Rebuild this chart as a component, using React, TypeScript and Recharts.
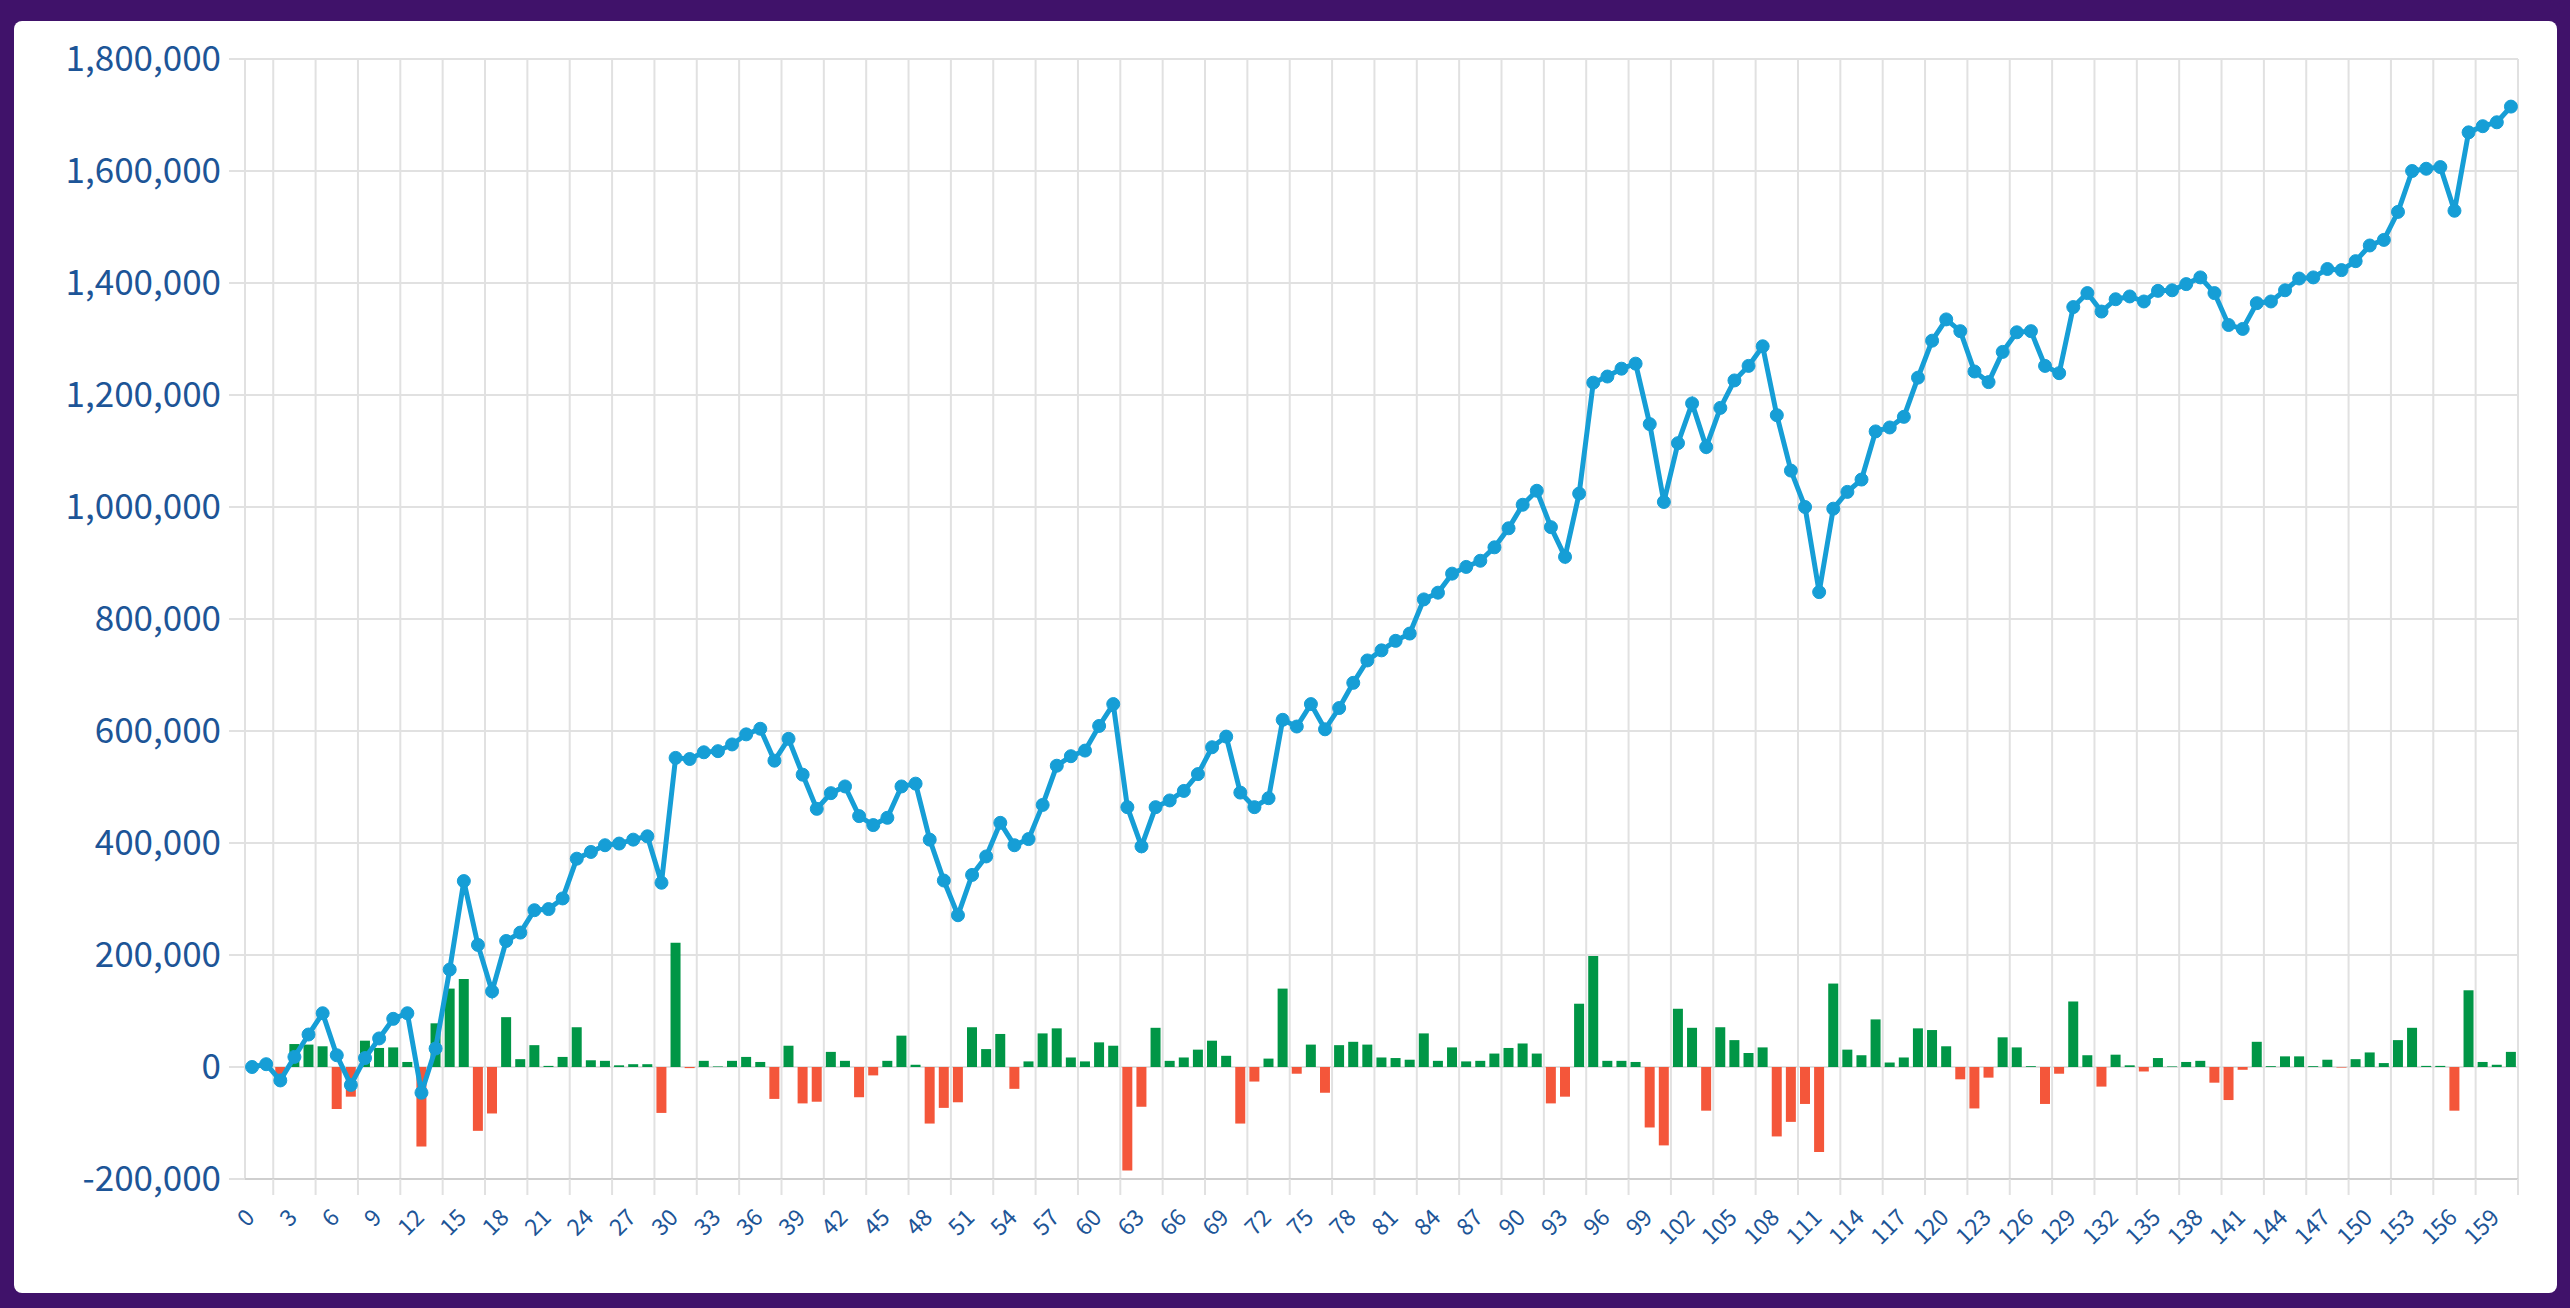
import { Bar, Cell, CartesianGrid, ComposedChart, Line, ReferenceLine, XAxis, YAxis } from 'recharts'

// cumulative balance, one value per period 0..160
const balance = [
    0, 5000, -24000, 18000, 58000, 96000, 21000, -32000, 16000, 51000,
    86000, 96000, -46000, 33000, 174000, 332000, 218000, 135000, 225000, 240000,
    280000, 282000, 301000, 372000, 384000, 396000, 399000, 406000, 412000, 329000,
    552000, 550000, 562000, 564000, 576000, 594000, 604000, 547000, 586000, 522000,
    461000, 489000, 501000, 448000, 432000, 445000, 501000, 506000, 406000, 333000,
    271000, 343000, 376000, 436000, 396000, 407000, 468000, 538000, 555000, 565000,
    609000, 648000, 464000, 394000, 464000, 476000, 493000, 523000, 571000, 590000,
    490000, 464000, 480000, 620000, 608000, 648000, 603000, 641000, 686000, 726000,
    744000, 761000, 774000, 835000, 847000, 881000, 893000, 904000, 928000, 962000,
    1004000, 1029000, 964000, 911000, 1024000, 1222000, 1233000, 1247000, 1256000, 1148000,
    1009000, 1114000, 1185000, 1107000, 1177000, 1226000, 1252000, 1287000, 1164000, 1065000,
    1000000, 848000, 997000, 1027000, 1049000, 1135000, 1142000, 1161000, 1231000, 1297000,
    1335000, 1314000, 1242000, 1223000, 1277000, 1312000, 1314000, 1252000, 1239000, 1357000,
    1382000, 1349000, 1371000, 1376000, 1367000, 1386000, 1387000, 1398000, 1410000, 1382000,
    1325000, 1318000, 1364000, 1367000, 1387000, 1408000, 1410000, 1425000, 1423000, 1439000,
    1467000, 1477000, 1527000, 1600000, 1604000, 1607000, 1529000, 1669000, 1680000, 1687000,
    1715000,
]

// per-period change (bars)
const change = [
    0, 5000, -29000, 41000, 40000, 37000, -75000, -53000, 47000, 34000,
    35000, 9000, -142000, 78000, 140000, 157000, -114000, -83000, 89000, 14000,
    39000, 2000, 18000, 71000, 12000, 11000, 3000, 5000, 5000, -82000,
    222000, -2000, 11000, 1000, 11000, 18000, 9000, -57000, 38000, -65000,
    -62000, 27000, 11000, -54000, -15000, 11000, 56000, 4000, -101000, -73000,
    -63000, 71000, 32000, 59000, -39000, 10000, 60000, 69000, 17000, 10000,
    44000, 38000, -185000, -71000, 70000, 11000, 17000, 31000, 47000, 20000,
    -101000, -26000, 15000, 140000, -12000, 40000, -46000, 39000, 45000, 40000,
    17000, 16000, 13000, 60000, 11000, 35000, 10000, 11000, 24000, 34000,
    42000, 24000, -65000, -53000, 113000, 198000, 11000, 11000, 9000, -108000,
    -140000, 104000, 70000, -78000, 71000, 48000, 25000, 35000, -124000, -98000,
    -66000, -152000, 149000, 31000, 21000, 85000, 8000, 17000, 69000, 66000,
    37000, -22000, -74000, -19000, 53000, 35000, 1500, -66000, -12000, 117000,
    21000, -35000, 22000, 3000, -8000, 16000, 1000, 9000, 11000, -28000,
    -59000, -5000, 45000, 1500, 19000, 19000, 1500, 13000, -1000, 14000,
    26000, 7000, 48000, 70000, 2000, 2000, -78000, 137000, 9000, 4000,
    27000,
]

const xLabels = [
    0, 3, 6, 9, 12, 15, 18, 21, 24, 27, 30, 33, 36, 39, 42, 45, 48, 51,
    54, 57, 60, 63, 66, 69, 72, 75, 78, 81, 84, 87, 90, 93, 96, 99, 102, 105,
    108, 111, 114, 117, 120, 123, 126, 129, 132, 135, 138, 141, 144, 147, 150, 153, 156, 159,
]

const yTicks = [-200000, 0, 200000, 400000, 600000, 800000, 1000000, 1200000, 1400000, 1600000, 1800000]

const rows = balance.map((v, i) => ({ idx: i, balance: v, change: change[i] }))

// grid lines sit between the labelled periods
const gridTicks = xLabels.map(t => t + 1.5)

const GRID = '#e1e1e1'
const TEXT = '#1d5597'
const FONT = '"Noto Sans CJK JP", "Noto Sans", sans-serif'

function XLabel({ x, y, payload }: any) {
    const ax = x + 4
    const ay = y + 39
    return (
        <text
            x={ax}
            y={ay}
            transform={`rotate(-45, ${ax}, ${ay})`}
            textAnchor="end"
            fill={TEXT}
            fontSize={23}
            fontFamily={FONT}
        >
            {payload.value}
        </text>
    )
}

export default function App() {
    return (
        <div style={{ position: 'fixed', inset: 0, background: '#40126a' }}>
            <div
                style={{
                    position: 'absolute',
                    left: 14,
                    top: 21,
                    width: 2543,
                    height: 1272,
                    background: '#ffffff',
                    borderRadius: 8,
                }}
            />
            <div style={{ position: 'absolute', left: 0, top: 0 }}>
                <ComposedChart
                    width={2570}
                    height={1308}
                    data={rows}
                    margin={{ top: 59, right: 52, bottom: 0, left: 0 }}
                >
                    <CartesianGrid stroke={GRID} strokeWidth={2} verticalValues={gridTicks} syncWithTicks />
                    <XAxis
                        dataKey="idx"
                        type="number"
                        domain={[-0.5, 160.5]}
                        allowDataOverflow
                        ticks={gridTicks}
                        interval={0}
                        height={1}
                        tick={() => <g />}
                        tickSize={16}
                        tickLine={{ stroke: GRID, strokeWidth: 2 }}
                        axisLine={{ stroke: '#cfcfcf', strokeWidth: 2 }}
                    />
                    <XAxis
                        xAxisId="labels"
                        dataKey="idx"
                        type="number"
                        domain={[-0.5, 160.5]}
                        allowDataOverflow
                        ticks={xLabels}
                        interval={0}
                        height={128}
                        tickSize={0}
                        tickMargin={0}
                        tickLine={false}
                        axisLine={false}
                        tick={<XLabel />}
                    />
                    <YAxis
                        width={245}
                        domain={[-200000, 1800000]}
                        ticks={yTicks}
                        interval={0}
                        allowDataOverflow
                        tickSize={16}
                        tickMargin={8}
                        tickLine={{ stroke: GRID, strokeWidth: 2 }}
                        axisLine={false}
                        tick={{ fill: TEXT, fontSize: 35, fontFamily: FONT }}
                        tickFormatter={(v: number) => v.toLocaleString('en-US')}
                    />
                    <ReferenceLine x={-0.5} stroke={GRID} strokeWidth={2} />
                    <Bar dataKey="change" barSize={10} isAnimationActive={false}>
                        {rows.map((r, i) => (
                            <Cell key={`c-${i}`} fill={r.change < 0 ? '#f4563a' : '#009646'} />
                        ))}
                    </Bar>
                    <Line
                        type="linear"
                        dataKey="balance"
                        stroke="#169ed6"
                        strokeWidth={5}
                        dot={{ r: 6.5, fill: '#169ed6', stroke: '#169ed6', strokeWidth: 1 }}
                        activeDot={false}
                        isAnimationActive={false}
                    />
                </ComposedChart>
            </div>
        </div>
    )
}
